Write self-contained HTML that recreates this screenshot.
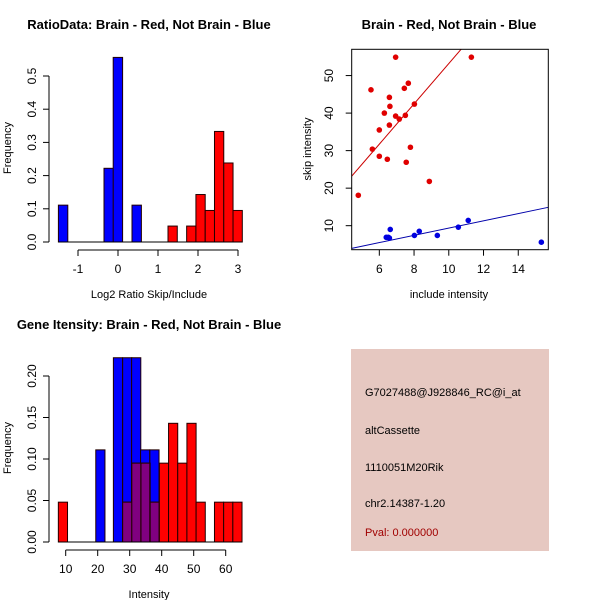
<!DOCTYPE html>
<html><head><meta charset="utf-8"><style>
html,body{margin:0;padding:0;background:#fff}
svg{display:block;font-family:"Liberation Sans",sans-serif}
</style></head><body>
<svg id="chart" width="600" height="600" viewBox="0 0 600 600" xmlns="http://www.w3.org/2000/svg">
<rect width="600" height="600" fill="#fff"/>
<g id="p1"></g>
<g id="p2"></g>
<g id="p3"></g>
<g>
<rect x="351" y="349" width="198" height="202" fill="#e6c8c1"/>
<text x="365" y="396" font-size="11" fill="#000">G7027488@J928846_RC@i_at</text>
<text x="365" y="434" font-size="11" fill="#000">altCassette</text>
<text x="365" y="471" font-size="11" fill="#000">1110051M20Rik</text>
<text x="365" y="507" font-size="11" fill="#000">chr2.14387-1.20</text>
<text x="365" y="536" font-size="11" fill="#a00000">Pval: 0.000000</text>
</g>
</svg>
<script>
// ---- Panel 1 data ----
const p1BlueLeft = [-1.49, -0.35, -0.12, 0.35];
const p1BlueFreq = [0.111, 0.222, 0.556, 0.111];
const p1BlueWidth = 0.235;
const p1RedLeft = [1.25, 1.716, 1.948, 2.18, 2.412, 2.644, 2.876];
const p1RedFreq = [0.048, 0.048, 0.143, 0.095, 0.333, 0.238, 0.095];
const p1RedWidth = 0.232;
const p1XTicks = [-1, 0, 1, 2, 3];
const p1YTicks = [0.0, 0.1, 0.2, 0.3, 0.4, 0.5];
const p1YLabels = ["0.0", "0.1", "0.2", "0.3", "0.4", "0.5"];
// ---- Panel 2 data ----
const redX = [6.94, 11.3, 5.52, 7.67, 7.44, 6.58, 6.61, 8.02, 6.29, 6.94, 7.50, 7.15, 6.58, 6.0, 5.6, 7.79, 6.0, 6.46, 7.55, 8.88, 4.79];
const redY = [54.9, 54.9, 46.2, 47.96, 46.6, 44.2, 41.8, 42.4, 40.0, 39.2, 39.4, 38.4, 36.8, 35.5, 30.4, 30.9, 28.5, 27.7, 26.9, 21.8, 18.1];
const blueX = [6.63, 6.40, 6.52, 6.58, 8.30, 8.02, 9.34, 10.55, 11.12, 15.33];
const blueY = [9.0, 6.9, 6.9, 6.7, 8.5, 7.4, 7.4, 9.6, 11.4, 5.6];
const redFit = [-0.5, 5.37];   // intercept, slope
const blueFit = [-0.3, 0.966];
const p2XTicks = [6, 8, 10, 12, 14];
const p2YTicks = [10, 20, 30, 40, 50];
// ---- Panel 3 data ----
const p3BlueLeft = [19.4, 24.9, 27.8, 30.6, 33.4, 36.3];
const p3BlueFreq = [0.111, 0.222, 0.222, 0.222, 0.111, 0.111];
const p3BlueWidth = 2.87;
const p3RedStart = 7.7;
const p3RedWidth = 2.87;
const p3RedFreq = [0.048, 0, 0, 0, 0, 0, 0, 0.048, 0.095, 0.095, 0.048, 0.095, 0.143, 0.095, 0.143, 0.048, 0, 0.048, 0.048, 0.048];
const p3XTicks = [10, 20, 30, 40, 50, 60];
const p3YTicks = [0, 0.05, 0.10, 0.15, 0.20];
const p3YLabels = ["0.00", "0.05", "0.10", "0.15", "0.20"];

const NS = "http://www.w3.org/2000/svg";
function mk(parent, tag, attrs, text) {
  const e = document.createElementNS(NS, tag);
  for (const k in attrs) e.setAttribute(k, attrs[k]);
  if (text !== undefined) e.textContent = text;
  parent.appendChild(e);
  return e;
}
function lin(d0, d1, r0, r1) { return v => r0 + (v - d0) * (r1 - r0) / (d1 - d0); }

function axes(g, sx, sy, xt, xl, yt, yl, xAxisY, yAxisX) {
  let a = mk(g, "line", {x1: sx(xt[0]), x2: sx(xt[xt.length-1]), y1: xAxisY, y2: xAxisY, stroke: "#000"});
  
  
  xt.forEach((t, i) => {
    mk(g, "line", {x1: sx(t), x2: sx(t), y1: xAxisY, y2: xAxisY + 6, stroke: "#000"});
    const tx = mk(g, "text", {x: sx(t), y: xAxisY + 23, "font-size": 12, "text-anchor": "middle"}, xl[i]);
    
    
  });
  let b = mk(g, "line", {x1: yAxisX, x2: yAxisX, y1: sy(yt[0]), y2: sy(yt[yt.length-1]), stroke: "#000"});
  
  
  yt.forEach((t, i) => {
    mk(g, "line", {x1: yAxisX - 6, x2: yAxisX, y1: sy(t), y2: sy(t), stroke: "#000"});
    const x = yAxisX - 13, y = sy(t);
    const ty = mk(g, "text", {x: x, y: y, "font-size": 12, "text-anchor": "middle", transform: `rotate(-90 ${x} ${y})`}, yl[i]);
    
    
  });
}
function title(g, x, y, s, name) {
  const t = mk(g, "text", {x: x, y: y, "font-size": 13, "font-weight": "bold", "text-anchor": "middle"}, s);
  
  
}
function xlabel(g, x, y, s) {
  const t = mk(g, "text", {x: x, y: y, "font-size": 11, "text-anchor": "middle"}, s);
  
  
}
function ylabel(g, x, y, s) {
  const t = mk(g, "text", {x: x, y: y, "font-size": 11, "text-anchor": "middle", transform: `rotate(-90 ${x} ${y})`}, s);
  
  
}
function bar(g, sx, sy, l, w, f, fill, name) {
  if (f <= 0) return;
  const r = mk(g, "rect", {x: sx(l), y: sy(f), width: sx(l + w) - sx(l), height: sy(0) - sy(f), fill: fill, stroke: "#200", "stroke-width": 1});
  
  
}

// Panel 1
(function(){
  const g = document.getElementById("p1");
  const sx = lin(0, 1, 118, 158), sy = lin(0, 0.5, 242, 76);
  title(g, 149, 29, "RatioData: Brain - Red, Not Brain - Blue", "ratio-title");
  p1BlueLeft.forEach((l, i) => bar(g, sx, sy, l, p1BlueWidth, p1BlueFreq[i], "#0000ff", "blue-bar"));
  p1RedLeft.forEach((l, i) => bar(g, sx, sy, l, p1RedWidth, p1RedFreq[i], "#ff0000", "red-bar"));
  mk(g, "line", {x1: sx(-1.49), x2: sx(3.1), y1: sy(0), y2: sy(0), stroke: "#000"});
  axes(g, sx, sy, p1XTicks, p1XTicks.map(String), p1YTicks, p1YLabels, 250, 49);
  xlabel(g, 149, 298, "Log2 Ratio Skip/Include");
  ylabel(g, 11, 148, "Frequency");
})();

// Panel 2
(function(){
  const g = document.getElementById("p2");
  const x0 = 4.41, x1 = 15.73, y0 = 3.6, y1 = 57.0;
  const sx = lin(x0, x1, 351.7, 548.3), sy = lin(y0, y1, 249.7, 49.3);
  title(g, 449, 29, "Brain - Red, Not Brain - Blue", "scatter-title");
  const clip = mk(g, "clipPath", {id: "c2"});
  mk(clip, "rect", {x: 351.7, y: 49.3, width: 196.6, height: 200.4});
  const lg = mk(g, "g", {"clip-path": "url(#c2)"});
  const rl = mk(lg, "line", {x1: sx(x0), y1: sy(redFit[0] + redFit[1]*x0), x2: sx(x1), y2: sy(redFit[0] + redFit[1]*x1), stroke: "#cc0000"});
  
  
  const bl = mk(lg, "line", {x1: sx(x0), y1: sy(blueFit[0] + blueFit[1]*x0), x2: sx(x1), y2: sy(blueFit[0] + blueFit[1]*x1), stroke: "#0000aa"});
  
  
  redX.forEach((x, i) => {
    const c = mk(g, "circle", {cx: sx(x), cy: sy(redY[i]), r: 2.8, fill: "#e00000"});
    
    
  });
  blueX.forEach((x, i) => {
    const c = mk(g, "circle", {cx: sx(x), cy: sy(blueY[i]), r: 2.8, fill: "#0000e0"});
    
    
  });
  const box = mk(g, "rect", {x: 351.7, y: 49.3, width: 196.6, height: 200.4, fill: "none", stroke: "#000"});
  
  
  p2XTicks.forEach(t => {
    mk(g, "line", {x1: sx(t), x2: sx(t), y1: 249.7, y2: 255.7, stroke: "#000"});
    const tx = mk(g, "text", {x: sx(t), y: 273, "font-size": 12, "text-anchor": "middle"}, String(t));
    
    
  });
  p2YTicks.forEach(t => {
    mk(g, "line", {x1: 345.7, x2: 351.7, y1: sy(t), y2: sy(t), stroke: "#000"});
    const x = 333, y = sy(t);
    const ty = mk(g, "text", {x: x, y: y, "font-size": 12, "text-anchor": "middle", transform: `rotate(-90 ${x} ${y})`}, String(t));
    
    
  });
  xlabel(g, 449, 298, "include intensity");
  ylabel(g, 311, 149, "skip intensity");
})();

// Panel 3
(function(){
  const g = document.getElementById("p3");
  const sx = lin(10, 60, 65.7, 225.7), sy = lin(0, 0.2, 542, 376);
  title(g, 149, 329, "Gene Itensity: Brain - Red, Not Brain - Blue", "gene-title");
  p3BlueLeft.forEach((l, i) => bar(g, sx, sy, l, p3BlueWidth, p3BlueFreq[i], "#0000ff", "blue-bar"));
  p3RedFreq.forEach((f, i) => bar(g, sx, sy, p3RedStart + i*p3RedWidth, p3RedWidth, f, "#ff0000", "red-bar"));
  p3RedFreq.forEach((f, i) => {
    const rl = p3RedStart + i*p3RedWidth, rr = rl + p3RedWidth;
    p3BlueLeft.forEach((bl, j) => {
      const l = Math.max(rl, bl), r = Math.min(rr, bl + p3BlueWidth);
      const h = Math.min(f, p3BlueFreq[j]);
      if (r - l > 0.3 && h > 0) bar(g, sx, sy, l, r - l, h, "#800080", "overlap-bar");
    });
  });
  mk(g, "line", {x1: sx(7.7), x2: sx(65.1), y1: sy(0), y2: sy(0), stroke: "#000"});
  axes(g, sx, sy, p3XTicks, p3XTicks.map(String), p3YTicks, p3YLabels, 550, 49);
  xlabel(g, 149, 598, "Intensity");
  ylabel(g, 11, 448, "Frequency");
})();
</script>
</body></html>
